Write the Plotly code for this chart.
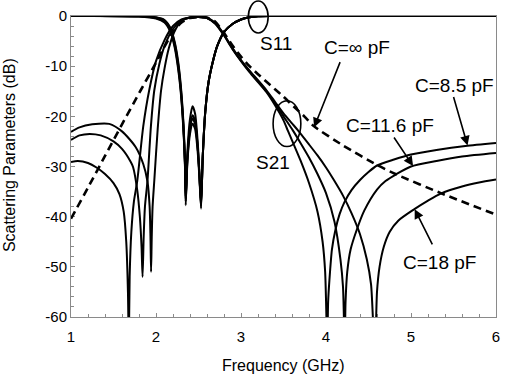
import plotly.graph_objects as go

# ---------------- data ----------------
# Dashed: C = infinity, S21
f_inf = [1.0, 1.2, 1.4, 1.6, 1.82, 2.0, 2.11, 2.2, 2.3, 2.4, 2.5, 2.6, 2.7, 2.8, 2.9,
         3.0, 3.1, 3.2, 3.3, 3.4, 3.5, 3.63, 3.75, 3.86, 4.2, 4.6, 4.83, 5.35, 6.0]
s21_inf = [-40.4, -34.2, -27.9, -21.6, -14.8, -9.3, -5.8, -3.2, -1.3, -0.4, -0.2, -0.3, -1.2, -3.4, -5.9,
           -8.1, -10.0, -11.6, -13.1, -14.6, -16.1, -18.2, -20.1, -22.0, -25.8, -29.7, -31.6, -35.3, -39.6]

# Solid S21, C = 8.5 pF
f_s21_85 = [1.0, 1.1, 1.25, 1.45, 1.6, 1.76, 1.85, 1.9, 1.925, 1.935, 1.942, 1.95, 1.96, 1.98,
            2.02, 2.06, 2.1, 2.15, 2.22, 2.3, 2.4, 2.5, 2.6, 2.7, 2.8, 2.9, 3.0, 3.1, 3.2, 3.3,
            3.4, 3.5, 3.55, 3.6, 3.7, 3.8, 3.9, 3.96, 3.99, 4.015, 4.025, 4.04, 4.07, 4.11, 4.16,
            4.217, 4.3, 4.4, 4.5, 4.6, 4.8, 5.0, 5.3, 5.64, 6.0]
s21_85 = [-23.1, -22.2, -21.6, -21.5, -23.0, -26.1, -29.5, -33.0, -38.0, -44.0, -51.0, -44.0, -38.0, -32.8,
          -22.5, -14.8, -10.5, -6.5, -3.0, -1.0, -0.3, -0.2, -0.4, -1.6, -3.9, -6.6, -9.0, -11.2, -13.2, -15.2,
          -17.8, -20.8, -22.8, -24.8, -28.8, -33.3, -39.0, -45.0, -51.0, -66.0, -57.0, -52.7, -46.5, -42.7, -39.5,
          -37.1, -34.7, -32.7, -31.1, -29.8, -28.6, -27.6, -26.7, -25.9, -25.3]

# Solid S21, C = 11.6 pF
f_s21_116 = [1.0, 1.1, 1.22, 1.35, 1.5, 1.6, 1.7, 1.73, 1.78, 1.81, 1.83, 1.842, 1.855, 1.87, 1.9,
             1.94, 1.98, 2.04, 2.1, 2.2, 2.3, 2.4, 2.5, 2.6, 2.7, 2.8, 2.9, 3.0, 3.1, 3.2, 3.3,
             3.4, 3.5, 3.61, 3.7, 3.8, 3.9, 4.0, 4.1, 4.17, 4.2, 4.22, 4.23, 4.25, 4.29, 4.36,
             4.45, 4.6, 4.7, 4.83, 5.0, 5.3, 5.6, 6.0]
s21_116 = [-24.7, -23.8, -23.5, -23.8, -25.0, -26.5, -29.0, -30.1, -34.8, -40.0, -46.0, -52.0, -44.0, -38.0, -32.8,
           -22.0, -14.8, -9.5, -6.0, -2.6, -0.9, -0.3, -0.2, -0.4, -1.5, -3.8, -6.5, -8.9, -11.0, -13.0, -15.0,
           -17.4, -20.0, -22.8, -25.3, -28.2, -31.5, -35.3, -41.0, -48.5, -54.0, -66.0, -57.0, -51.0, -46.5, -42.7,
           -38.8, -34.6, -32.9, -31.5, -30.0, -28.9, -28.0, -27.3]

# Solid S21, C = 18 pF
f_s21_18 = [1.0, 1.08, 1.2, 1.3, 1.4, 1.5, 1.57, 1.62, 1.65, 1.67, 1.68, 1.69, 1.71, 1.74, 1.78,
            1.85, 1.92, 2.0, 2.1, 2.2, 2.3, 2.4, 2.5, 2.6, 2.7, 2.8, 2.9, 3.0, 3.1, 3.2, 3.3,
            3.4, 3.5, 3.6, 3.67, 3.8, 3.9, 4.0, 4.1, 4.2, 4.3, 4.4, 4.48, 4.53, 4.575, 4.6,
            4.63, 4.68, 4.75, 4.85, 5.04, 5.2, 5.35, 5.6, 5.8, 6.0]
s21_18 = [-29.1, -28.9, -29.3, -30.2, -31.5, -33.3, -35.5, -39.0, -45.0, -55.0, -66.0, -52.0, -43.0, -37.0, -32.8,
          -22.0, -14.8, -9.0, -4.8, -2.0, -0.7, -0.3, -0.2, -0.4, -1.4, -3.7, -6.4, -8.8, -10.9, -12.8, -14.8,
          -17.1, -19.4, -21.4, -22.8, -25.6, -27.8, -30.2, -32.9, -35.8, -39.3, -43.5, -48.5, -53.5, -68.0, -55.0,
          -50.0, -46.0, -43.0, -40.8, -38.5, -36.8, -35.4, -34.0, -33.2, -32.6]

# S11 curves (four capacitor values)
f_s11 = [1.0, 1.8, 2.0, 2.1, 2.17, 2.22, 2.26, 2.29, 2.32, 2.34, 2.35, 2.37, 2.4, 2.43, 2.46,
         2.49, 2.51, 2.53, 2.55, 2.58, 2.62, 2.67, 2.72, 2.8, 2.9, 3.0, 3.1, 3.2, 3.4, 6.0]
s11_inf = [0.0, -0.05, -0.3, -0.9, -2.6, -5.5, -9.5, -14.0, -21.0, -29.0, -37.7, -27.0, -20.5, -18.0, -19.5,
           -25.0, -31.0, -38.4, -28.0, -19.0, -13.0, -9.0, -6.0, -3.2, -1.6, -0.7, -0.25, -0.05, 0.0, 0.0]
s11_85 = [0.0, -0.1, -0.5, -1.3, -3.2, -6.3, -10.5, -15.0, -22.0, -29.5, -36.5, -28.0, -22.0, -19.8, -21.0,
          -26.0, -31.5, -37.5, -28.0, -19.0, -13.0, -9.0, -6.0, -3.2, -1.6, -0.7, -0.25, -0.05, 0.0, 0.0]
s11_116 = [0.0, -0.07, -0.4, -1.1, -2.9, -5.9, -10.0, -14.5, -21.5, -29.0, -37.0, -29.0, -23.5, -21.5, -22.5,
           -27.0, -32.0, -38.0, -28.0, -19.0, -13.0, -9.0, -6.0, -3.2, -1.6, -0.7, -0.25, -0.05, 0.0, 0.0]
s11_18 = [0.0, -0.04, -0.25, -0.8, -2.4, -5.2, -9.0, -13.5, -20.5, -28.5, -36.0, -28.5, -22.5, -20.5, -21.5,
          -26.0, -31.5, -37.0, -28.0, -19.0, -13.0, -9.0, -6.0, -3.2, -1.6, -0.7, -0.25, -0.05, 0.0, 0.0]

x_ticks = [1, 2, 3, 4, 5, 6]
y_ticks = [0, -10, -20, -30, -40, -50, -60]

# ---------------- figure ----------------
fig = go.Figure()
line_kw = dict(color="black", width=2)
for fx, fy in [(f_s11, s11_inf), (f_s11, s11_85), (f_s11, s11_116), (f_s11, s11_18),
               (f_s21_85, s21_85), (f_s21_116, s21_116), (f_s21_18, s21_18)]:
    fig.add_trace(go.Scatter(x=fx, y=fy, mode="lines", line=dict(shape="spline", smoothing=0.7, **line_kw),
                             showlegend=False, hoverinfo="skip"))
fig.add_trace(go.Scatter(x=f_inf, y=s21_inf, mode="lines",
                         line=dict(color="black", width=2.6, dash="8px,5px", shape="spline", smoothing=0.6),
                         showlegend=False, hoverinfo="skip"))

font_family = "Liberation Sans, Arial, sans-serif"
axis_common = dict(showline=True, linecolor="#8a8a8a", linewidth=1, mirror=True, ticks="inside",
                   ticklen=4, tickcolor="#8a8a8a", showgrid=False, zeroline=False, layer="below traces",
                   tickfont=dict(family=font_family, size=15, color="black"))
fig.update_xaxes(range=[1, 6], tickvals=x_ticks, ticktext=[str(v) for v in x_ticks],
                 ticklabelstandoff=6,
                 minor=dict(dtick=0.2, ticks="inside", ticklen=3, tickcolor="#8a8a8a"), **axis_common)
fig.update_yaxes(range=[-60, 0], tickvals=y_ticks, ticktext=[str(v) for v in y_ticks],
                 minor=dict(dtick=2, ticks="inside", ticklen=3, tickcolor="#8a8a8a"), **axis_common)

ann = []
def txt(px, py, s, size=19):
    return dict(x=(px - 71) / 429, y=(317 - py) / 302, xref="paper", yref="paper", text=s,
                showarrow=False, xanchor="center", yanchor="middle",
                font=dict(family=font_family, size=size, color="black"))
ann.append(txt(278, 43, "S11"))
ann.append(txt(275, 162, "S21"))
ann.append(txt(360, 47, "C=∞ pF"))
ann.append(txt(458, 85, "C=8.5 pF"))
ann.append(txt(393, 125, "C=11.6 pF"))
ann.append(txt(443, 262, "C=18 pF"))
for tx, ty, ax, ay in [(3.86, -22.2, 26.6, -66.7), (5.665, -25.8, -14.4, -50),
                       (5.024, -29.9, -20, -30), (5.043, -38.5, 18.4, 36.7)]:
    ann.append(dict(x=tx, y=ty, xref="x", yref="y", text="", showarrow=True, ax=ax, ay=ay,
                    axref="pixel", ayref="pixel", arrowhead=2, arrowsize=1.2, arrowwidth=1.6,
                    arrowcolor="black", standoff=0))
ann.append(dict(x=(285 - 71) / 429, y=(317 - 366) / 302, xref="paper", yref="paper",
                text="Frequency (GHz)", showarrow=False, xanchor="center", yanchor="middle",
                font=dict(family=font_family, size=16, color="black")))
ann.append(dict(x=(9 - 71) / 429, y=(317 - 155) / 302, xref="paper", yref="paper",
                text="Scattering Parameters (dB)", showarrow=False, textangle=-90,
                xanchor="center", yanchor="middle",
                font=dict(family=font_family, size=16, color="black")))

shapes = []
def ell(cx, cy, rx, ry):
    return dict(type="circle", xref="paper", yref="paper",
                x0=(cx - rx - 71) / 429, x1=(cx + rx - 71) / 429,
                y0=(317 - (cy + ry)) / 302, y1=(317 - (cy - ry)) / 302,
                line=dict(color="black", width=1.6))
shapes.append(ell(260, 16, 10, 16))
shapes.append(ell(289, 123, 14, 23))

fig.update_layout(width=507, height=375, margin=dict(l=71, r=7, t=15, b=58),
                  paper_bgcolor="white", plot_bgcolor="white",
                  annotations=ann, shapes=shapes, showlegend=False)
fig.write_html("out.html")
